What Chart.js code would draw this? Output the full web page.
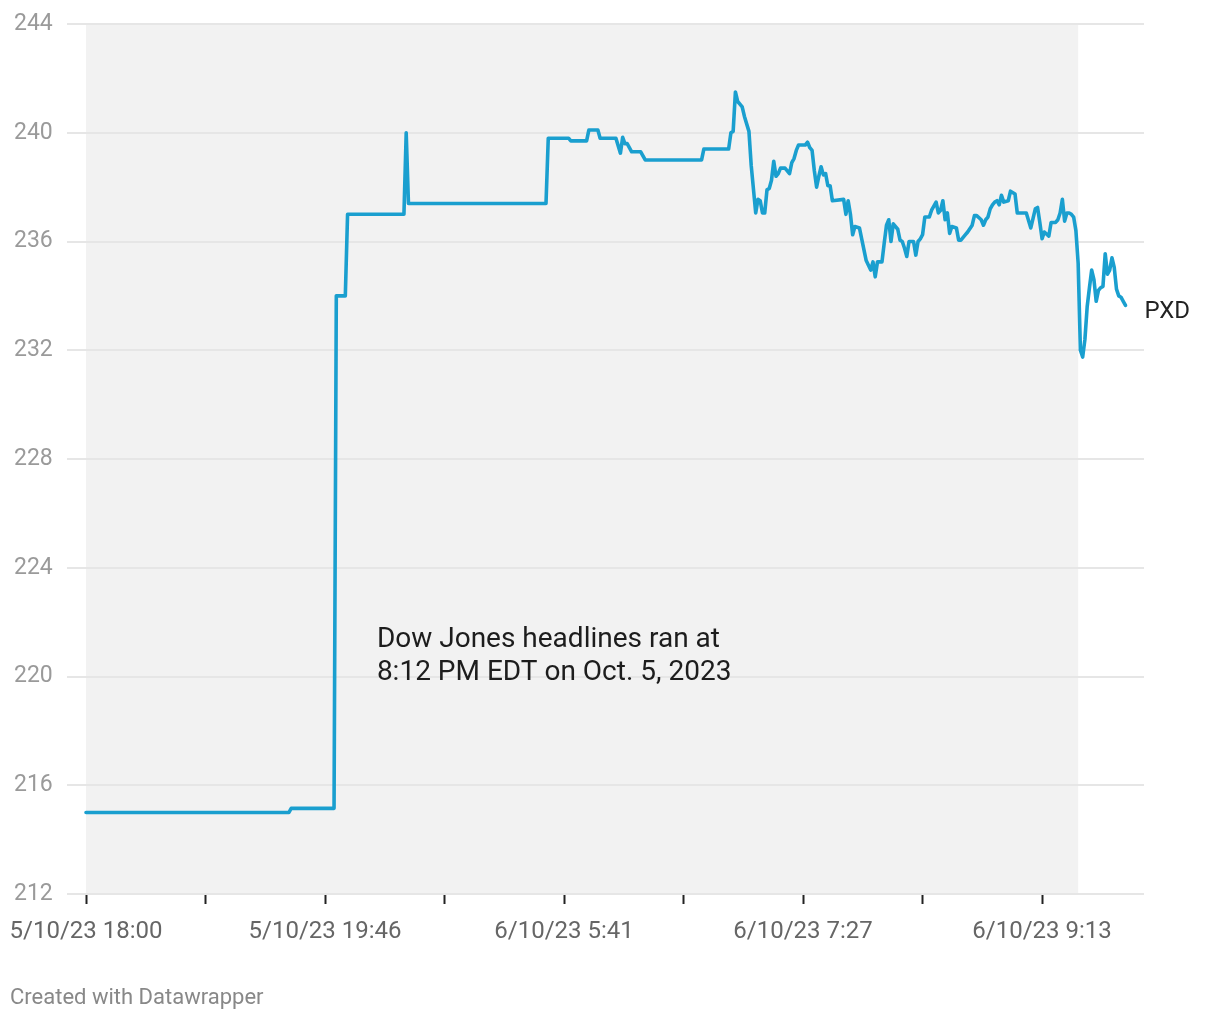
<!DOCTYPE html>
<html>
<head>
<meta charset="utf-8">
<script src="https://cdn.jsdelivr.net/npm/chart.js@4/dist/chart.umd.min.js"></script>
<style>
  html, body { margin: 0; padding: 0; background: #ffffff; }
  #wrap { width: 1220px; height: 1020px; position: relative; }
  canvas { display: block; }
</style>
</head>
<body>
<div id="wrap"><canvas id="c" width="1220" height="1020"></canvas></div>
<script>
// ---- Data (x = minute index of the trading record, y = PXD price) ----
const minuteIndex = [
  0, 90, 91, 110, 111, 115, 116, 141, 142, 143, 204, 205, 214, 215, 222, 223, 227, 228, 235, 237,
  238, 239, 240, 242, 246, 248, 273, 274, 285, 286, 287, 288, 289, 290, 291, 292, 294, 295, 297, 298,
  299, 300, 301, 302, 303, 304, 305, 306, 307, 308, 310, 312, 313, 314, 315, 316, 319, 320, 321, 322,
  323, 324, 325, 326, 327, 328, 329, 330, 331, 336, 337, 338, 339, 340, 341, 343, 344, 346, 348, 349,
  350, 351, 353, 354, 355, 356, 357, 358, 360, 361, 362, 363, 364, 365, 367, 368, 369, 370, 371, 372,
  374, 375, 376, 377, 378, 379, 380, 381, 382, 383, 384, 386, 387, 388, 390, 391, 393, 394, 395, 397,
  398, 399, 400, 401, 402, 403, 404, 405, 406, 407, 409, 410, 412, 413, 417, 419, 420, 421, 422, 423,
  424, 425, 427, 428, 430, 431, 432, 433, 434, 435, 436, 437, 438, 439, 440, 441, 442, 443, 444, 445,
  446, 447, 448, 449, 450, 451, 452, 453, 454, 455, 456, 457, 458, 459, 460, 461
];
const pxdPrice = [
  215.0, 215.0, 215.15, 215.15, 234.0, 234.0, 237.0, 237.0, 240.0, 237.4, 237.4, 239.8, 239.8, 239.7, 239.7, 240.1, 240.1, 239.8, 239.8, 239.25,
  239.83, 239.6, 239.6, 239.3, 239.3, 239.0, 239.0, 239.4, 239.4, 240.0, 240.05, 241.5, 241.15, 241.05, 240.95, 240.6, 240.05, 238.8, 237.05, 237.55,
  237.5, 237.05, 237.05, 237.9, 237.95, 238.25, 238.95, 238.4, 238.5, 238.7, 238.7, 238.5, 238.9, 239.05, 239.35, 239.55, 239.55, 239.65, 239.45, 239.35,
  238.6, 238.0, 238.4, 238.75, 238.45, 238.5, 238.05, 238.05, 237.5, 237.55, 237.0, 237.5, 237.0, 236.25, 236.55, 236.5, 236.1, 235.3, 234.95, 235.25,
  234.7, 235.25, 235.25, 235.95, 236.6, 236.8, 236.0, 236.65, 236.45, 236.05, 236.0, 235.75, 235.45, 236.0, 236.0, 235.5, 236.0, 236.1, 236.25, 236.9,
  236.9, 237.15, 237.3, 237.45, 237.05, 237.15, 237.5, 236.8, 237.05, 236.3, 236.55, 236.5, 236.05, 236.05, 236.25, 236.35, 236.6, 236.95, 236.95, 236.8,
  236.6, 236.8, 236.9, 237.2, 237.35, 237.45, 237.5, 237.35, 237.7, 237.45, 237.5, 237.85, 237.75, 237.05, 237.05, 236.5, 236.85, 237.2, 237.25, 236.7,
  236.1, 236.35, 236.2, 236.7, 236.7, 236.8, 237.05, 237.55, 236.75, 237.05, 237.05, 237.0, 236.9, 236.4, 235.2, 232.0, 231.75, 232.4, 233.6, 234.3,
  234.95, 234.6, 233.8, 234.2, 234.3, 234.35, 235.55, 234.8, 234.95, 235.4, 235.05, 234.25, 234.0, 233.95, 233.8, 233.65
];
// x-axis ticks (every 53 minutes) and their labels
const xTickIndex = [0, 53, 106, 159, 212, 265, 318, 371, 424];
const xTickLabels = ['5/10/23 18:00', '', '5/10/23 19:46', '', '6/10/23 5:41', '', '6/10/23 7:27', '', '6/10/23 9:13'];
// y-axis ticks
const yMin = 212, yMax = 244, yStep = 4;
// shaded pre-market period (index range) and text
const shadeRange = [0, 440];
const seriesName = 'PXD';
const noteLines = ['Dow Jones headlines ran at', '8:12 PM EDT on Oct. 5, 2023'];
const noteAnchor = { x: 129, y: 221.1 };
const footerText = 'Created with Datawrapper';

const FONT = 'Roboto, "Noto Sans", sans-serif';
const LINE_COLOR = '#1a9fcf';

const decorPlugin = {
  id: 'decor',
  beforeDraw(chart) {
    const { ctx, scales: { x, y } } = chart;
    ctx.save();
    ctx.fillStyle = '#f2f2f2';
    const x0 = x.getPixelForValue(shadeRange[0]);
    const x1 = x.getPixelForValue(shadeRange[1]);
    const y0 = y.getPixelForValue(yMax);
    const y1 = y.getPixelForValue(yMin);
    ctx.fillRect(x0, y0, x1 - x0, y1 - y0);
    ctx.restore();
  },
  afterDraw(chart) {
    const { ctx, scales: { x, y } } = chart;
    ctx.save();
    // annotation
    ctx.fillStyle = '#1d1d1d';
    ctx.font = '28px ' + FONT;
    ctx.textAlign = 'left';
    ctx.textBaseline = 'alphabetic';
    const ax = x.getPixelForValue(noteAnchor.x);
    const ay = y.getPixelForValue(noteAnchor.y);
    noteLines.forEach((t, i) => ctx.fillText(t, ax, ay + i * 33));
    // series label at line end
    const li = minuteIndex.length - 1;
    const lx = x.getPixelForValue(minuteIndex[li]);
    const ly = y.getPixelForValue(pxdPrice[li]);
    ctx.fillStyle = '#222222';
    ctx.font = '24px ' + FONT;
    ctx.fillText(seriesName, lx + 19, ly + 13);
    // footer
    ctx.fillStyle = '#888888';
    ctx.font = '22px ' + FONT;
    ctx.fillText(footerText, 10, 1004);
    ctx.restore();
  }
};

new Chart(document.getElementById('c'), {
  type: 'line',
  data: {
    datasets: [{
      label: seriesName,
      data: minuteIndex.map((m, i) => ({ x: m, y: pxdPrice[i] })),
      borderColor: LINE_COLOR,
      borderWidth: 3.6,
      pointRadius: 0,
      tension: 0,
      fill: false,
      borderJoinStyle: 'round',
      borderCapStyle: 'round'
    }]
  },
  options: {
    responsive: false,
    animation: false,
    devicePixelRatio: 1,
    layout: { padding: { left: 14, right: 76, top: 24, bottom: 70 } },
    plugins: { legend: { display: false }, tooltip: { enabled: false } },
    scales: {
      x: {
        type: 'linear',
        min: -8.43,
        max: 469.2,
        border: { display: false },
        grid: {
          display: true,
          drawOnChartArea: false,
          drawTicks: true,
          tickLength: 10,
          tickColor: '#222222',
          tickWidth: 2
        },
        afterBuildTicks(scale) {
          scale.ticks = xTickIndex.map(v => ({ value: v }));
        },
        afterFit(scale) {
          scale.height = 56;
          scale.paddingLeft = 0;
          scale.paddingRight = 0;
        },
        ticks: {
          autoSkip: false,
          maxRotation: 0,
          minRotation: 0,
          padding: 14,
          color: '#666666',
          font: { family: FONT, size: 24 },
          callback(value) {
            const k = xTickIndex.indexOf(value);
            return k >= 0 ? xTickLabels[k] : '';
          }
        }
      },
      y: {
        min: yMin,
        max: yMax,
        border: { display: false },
        grid: {
          color: '#e6e6e6',
          lineWidth: 2,
          drawTicks: false,
          tickLength: 0
        },
        afterFit(scale) {
          scale.width = 53;
        },
        ticks: {
          stepSize: yStep,
          crossAlign: 'far',
          padding: 0,
          color: '#9a9a9a',
          font: { family: FONT, size: 23 }
        }
      }
    }
  },
  plugins: [decorPlugin]
});
</script>
</body>
</html>
